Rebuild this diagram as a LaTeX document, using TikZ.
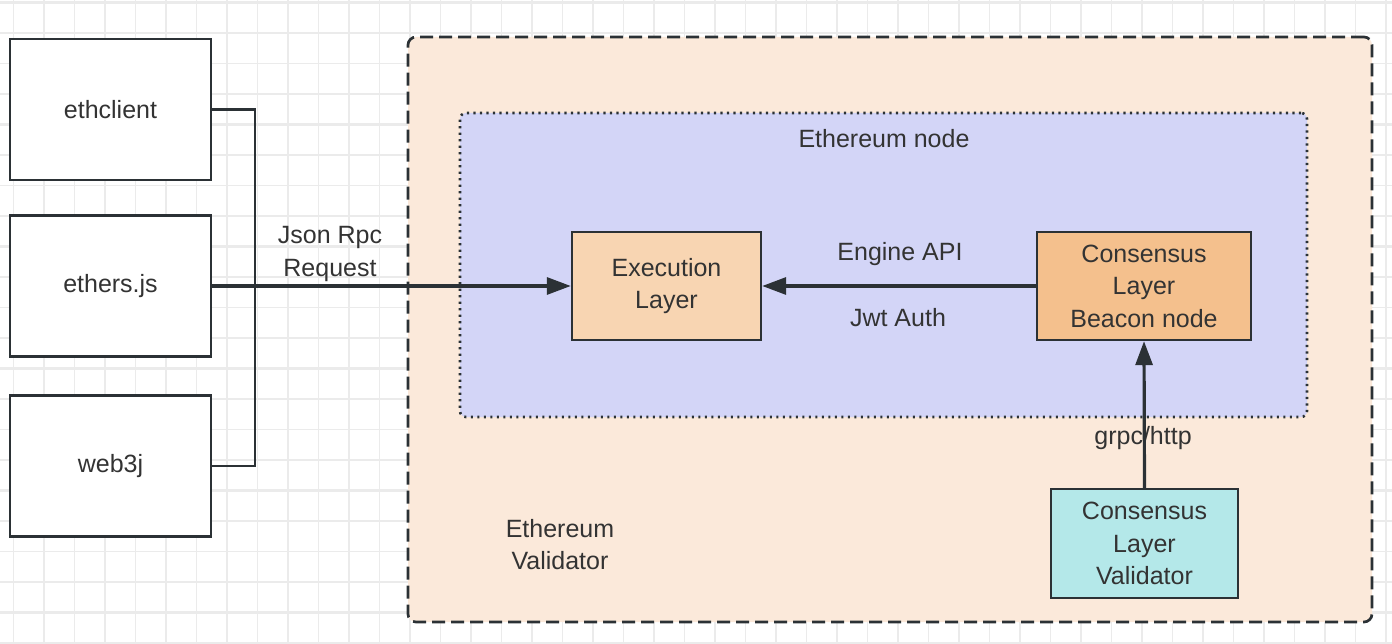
\documentclass[tikz,border=0pt]{standalone}
\usepackage{fontspec}
\setmainfont{Liberation Sans}
\usetikzlibrary{arrows.meta}
\definecolor{ink}{HTML}{333333}
\definecolor{edgec}{HTML}{2B3135}
\definecolor{gridc}{HTML}{EBEBEB}
\definecolor{validbg}{HTML}{FBE9DA}
\definecolor{nodebg}{HTML}{D3D5F7}
\definecolor{execbg}{HTML}{F8D5B2}
\definecolor{beaconbg}{HTML}{F4C08D}
\definecolor{cvbg}{HTML}{B4E8E9}
\tikzset{
  lbl/.style={font=\fontsize{25}{32.5}\selectfont, text=ink, align=center, inner sep=0pt},
  box/.style={lbl, draw=edgec, line width=2.4pt},
  client/.style={box, fill=white, minimum width=201pt, minimum height=141pt},
  validatorbox/.style={draw=edgec, fill=validbg, line width=2.7pt, rounded corners=8pt, dash pattern=on 13pt off 6pt},
  nodebox/.style={draw=edgec, fill=nodebg, line width=2.6pt, rounded corners=6pt, dash pattern=on 2.2pt off 4.3pt},
  wire/.style={draw=edgec, line width=2.4pt},
  arrowline/.style={draw=edgec, line width=3.2pt, -{Triangle[length=24pt,width=17pt]}},
}
\begin{document}
\begin{tikzpicture}[x=1pt,y=-1pt]
\useasboundingbox (0,0) rectangle (1392,644);
\fill[white] (0,0) rectangle (1392,644);
% grid
\foreach \i in {0,...,45}{
  \pgfmathtruncatemacro\m{mod(\i,4)}
  \ifnum\m=1 \def\lw{2.2pt}\else\def\lw{1.3pt}\fi
  \draw[gridc, line width=\lw] ({13.5+30.5*\i},0) -- ({13.5+30.5*\i},644);
}
\foreach \i in {0,...,21}{
  \pgfmathtruncatemacro\m{mod(\i,4)}
  \ifnum\m=0 \def\lw{2.2pt}\else\def\lw{1.3pt}\fi
  \draw[gridc, line width=\lw] (0,{2.5+30.5*\i}) -- (1392,{2.5+30.5*\i});
}
% containers
\node[validatorbox, minimum width=964pt, minimum height=585pt] (valbox) at (890,329.5) {};
\node[nodebox, minimum width=847pt, minimum height=304pt] (ethnode) at (883.5,265) {};
\node[lbl] (ethnodelbl) at (884,139) {Ethereum node};
\node[lbl] (vallbl) at (560,544.5) {Ethereum\\Validator};
% clients
\node[client] (ethclient) at (110.5,109.5) {ethclient};
\node[client] (ethers) at (110.5,286) {ethers.js};
\node[client] (web3j) at (110.5,466) {web3j};
% layers
\node[box, fill=execbg, minimum width=189pt, minimum height=108pt] (exec) at (666.5,286) {Execution\\Layer};
\node[box, fill=beaconbg, minimum width=214pt, minimum height=108pt] (beacon) at (1144,286) {Consensus\\Layer\\Beacon node};
\node[box, fill=cvbg, minimum width=187pt, minimum height=109pt] (cv) at (1144.5,543.5) {Consensus\\Layer\\Validator};
% connectors
\coordinate (bus) at (255,286);
\draw[wire] (ethclient.east) -| (bus) |- (web3j.east);
\draw[arrowline] (ethers.east) -- (exec.west);
\node[lbl] (jsonlbl) at (330,254) {Json Rpc\\Request};
\draw[arrowline] (beacon.west) -- (exec.east);
\node[lbl] (enginelbl) at (900,254) {Engine API};
\node[lbl] (jwtlbl) at (898,318) {Jwt Auth};
\node[lbl] (grpclbl) at (1143,438) {grpc/http};
\draw[arrowline] (cv.north) -- (beacon.south);
\end{tikzpicture}
\end{document}
